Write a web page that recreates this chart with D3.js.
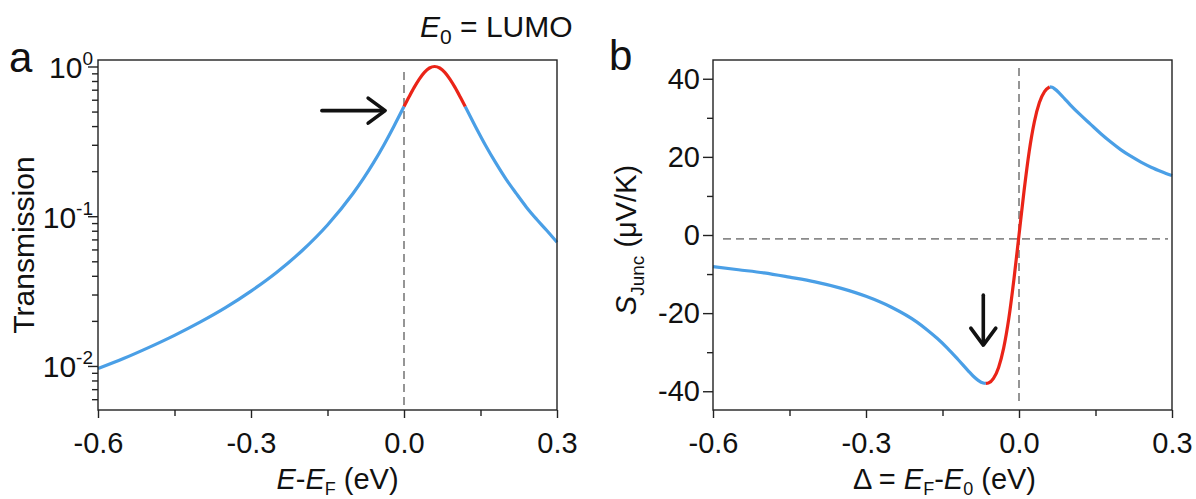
<!DOCTYPE html>
<html>
<head>
<meta charset="utf-8">
<script src="https://cdn.jsdelivr.net/npm/d3@7"></script>
<style>
  body { margin: 0; background: #fff; }
  svg { display: block; }
  text { font-family: "Liberation Sans", Arial, sans-serif; fill: #111; }
</style>
</head>
<body>
<svg id="chart" width="1196" height="499"></svg>
<script>
// ---- Panel a: transmission through the junction vs. energy ----
const energy = [-0.6, -0.55, -0.5, -0.45, -0.4, -0.35, -0.3, -0.25, -0.2, -0.15, -0.1, -0.08, -0.06, -0.04, -0.02,
  0.0, 0.01, 0.02, 0.03, 0.04, 0.05, 0.06, 0.07, 0.08, 0.09, 0.10, 0.11, 0.12,
  0.14, 0.16, 0.18, 0.20, 0.22, 0.24, 0.26, 0.28, 0.30];
const transmission = [0.0096, 0.0112, 0.0133, 0.0160, 0.0196, 0.0245, 0.0316, 0.0421, 0.0588, 0.0874, 0.1417, 0.1773, 0.2269, 0.2970, 0.3977,
  0.540, 0.628, 0.725, 0.824, 0.914, 0.977, 1.0, 0.977, 0.914, 0.824, 0.725, 0.628, 0.540,
  0.398, 0.297, 0.227, 0.177, 0.142, 0.115, 0.0955, 0.0803, 0.0670];
const energyHighlight = [0.0, 0.12];          // red part of the transmission curve
const energyTicks = [-0.6, -0.3, 0.0, 0.3];
const energyMinorTicks = [-0.45, -0.15, 0.15];
const energyDomain = [-0.6, 0.3];
const transmissionDomain = [0.00508, 1.105];
const fermiLine = 0.0;
const arrowA = { from: [-0.161, 0.507], to: [-0.037, 0.507] };

// ---- Panel b: junction Seebeck coefficient vs. level alignment ----
const delta = [-0.6, -0.55, -0.5, -0.45, -0.4, -0.35, -0.3, -0.25, -0.2, -0.18, -0.16, -0.14, -0.12, -0.10, -0.09, -0.08, -0.07, -0.065,
  -0.06, -0.05, -0.04, -0.03, -0.02, -0.01, 0.0, 0.01, 0.02, 0.03, 0.04, 0.05, 0.06,
  0.065, 0.07, 0.08, 0.09, 0.10, 0.12, 0.14, 0.16, 0.18, 0.20, 0.22, 0.24, 0.26, 0.28, 0.30];
const seebeck = [-8.1, -8.9, -9.7, -10.8, -12.0, -13.6, -15.7, -18.5, -22.3, -24.3, -26.5, -29.0, -31.8, -34.7, -36.1, -37.2, -37.9, -38.0,
  -37.9, -36.7, -33.9, -28.9, -21.4, -11.4, 0.0, 11.4, 21.4, 28.9, 33.9, 36.7, 37.9,
  37.8, 37.4, 36.2, 34.8, 33.4, 30.8, 28.4, 26.0, 23.8, 21.8, 20.1, 18.6, 17.3, 16.2, 15.2];
const deltaHighlight = [-0.065, 0.06];         // red part of the Seebeck curve
const deltaTicks = [-0.6, -0.3, 0.0, 0.3];
const deltaMinorTicks = [-0.45, -0.15, 0.15];
const deltaDomain = [-0.6, 0.3];
const seebeckTicks = [40, 20, 0, -20, -40];
const seebeckMinorTicks = [30, 10, -10, -30];
const seebeckDomain = [-44.8, 44.8];
const seebeckBaseline = -1.0;
const resonanceLine = 0.0;
const arrowB = { from: [-0.07, -15.4], to: [-0.07, -28.2] };

// ---- layout ----
const panelA = { left: 98, right: 557, top: 60, bottom: 410 };
const panelB = { left: 713, right: 1172, top: 60, bottom: 410 };
const blue = "#4a9fe6", red = "#ea2418", axisColor = "#222", dashColor = "#8a8a8a";
const tickFont = 29, titleFont = 29;

const svg = d3.select("#chart");

const xA = d3.scaleLinear().domain(energyDomain).range([panelA.left, panelA.right]);
const yA = d3.scaleLog().domain(transmissionDomain).range([panelA.bottom, panelA.top]);
const xB = d3.scaleLinear().domain(deltaDomain).range([panelB.left, panelB.right]);
const yB = d3.scaleLinear().domain(seebeckDomain).range([panelB.bottom, panelB.top]);

const fmt = d => d.toFixed(1);

function styleAxis(g) {
  g.select(".domain").remove();
  g.selectAll(".tick line").attr("stroke", axisColor).attr("stroke-width", 1.4);
  g.selectAll(".tick text").attr("font-size", tickFont).attr("fill", "#111")
    .attr("font-family", "Liberation Sans, Arial, sans-serif");
}

function xAxis(x, panel, major, minor) {
  svg.append("g").attr("transform", `translate(0,${panel.bottom})`)
    .call(d3.axisBottom(x).tickValues(minor).tickSize(6).tickFormat(""))
    .call(styleAxis);
  svg.append("g").attr("transform", `translate(0,${panel.bottom})`)
    .call(d3.axisBottom(x).tickValues(major).tickSize(8).tickPadding(14).tickFormat(fmt))
    .call(styleAxis);
}

function frame(panel) {
  svg.append("rect")
    .attr("x", panel.left).attr("y", panel.top)
    .attr("width", panel.right - panel.left).attr("height", panel.bottom - panel.top)
    .attr("fill", "none").attr("stroke", axisColor).attr("stroke-width", 1.4);
}

function split(xs, ys, range) {
  const pts = xs.map((x, i) => [x, ys[i]]);
  return [
    { pts: pts.filter(p => p[0] <= range[0]), color: blue },
    { pts: pts.filter(p => p[0] >= range[1]), color: blue },
    { pts: pts.filter(p => p[0] >= range[0] && p[0] <= range[1]), color: red }
  ];
}

function drawCurve(segments, x, y) {
  const line = d3.line().x(p => x(p[0])).y(p => y(p[1])).curve(d3.curveMonotoneX);
  segments.forEach(s => {
    svg.append("path").attr("d", line(s.pts))
      .attr("fill", "none").attr("stroke", s.color).attr("stroke-width", 3.2)
      .attr("stroke-linejoin", "round");
  });
}

function arrow(x, y, a) {
  const x0 = x(a.from[0]), y0 = y(a.from[1]), x1 = x(a.to[0]), y1 = y(a.to[1]);
  const ang = Math.atan2(y1 - y0, x1 - x0);
  const len = 17, half = 12.5;
  const bx = x1 - len * Math.cos(ang), by = y1 - len * Math.sin(ang);
  const px = -Math.sin(ang) * half, py = Math.cos(ang) * half;
  const g = svg.append("g").attr("stroke", "#111").attr("stroke-width", 3.6).attr("fill", "none")
    .attr("stroke-linecap", "round").attr("stroke-linejoin", "round");
  g.append("line").attr("x1", x0).attr("y1", y0).attr("x2", x1 - 1.5 * Math.cos(ang)).attr("y2", y1 - 1.5 * Math.sin(ang));
  g.append("path").attr("d", `M${bx + px},${by + py}L${x1},${y1}L${bx - px},${by - py}`);
}

// ===== Panel a =====
xAxis(xA, panelA, energyTicks, energyMinorTicks);

const logTicks = yA.ticks().filter(d => d >= transmissionDomain[0] && d <= transmissionDomain[1]);
const isDecade = d => Math.abs(Math.log10(d) - Math.round(Math.log10(d))) < 1e-6;
svg.append("g").attr("transform", `translate(${panelA.left},0)`)
  .call(d3.axisLeft(yA).tickValues(logTicks.filter(d => !isDecade(d))).tickSize(6).tickFormat(""))
  .call(styleAxis);
const decadeAxis = svg.append("g").attr("transform", `translate(${panelA.left},0)`)
  .call(d3.axisLeft(yA).tickValues(logTicks.filter(isDecade)).tickSize(10).tickFormat(""))
  .call(styleAxis);
decadeAxis.selectAll(".tick").each(function (d) {
  const t = d3.select(this).append("text").attr("x", -5).attr("y", 11)
    .attr("text-anchor", "end").attr("font-size", 30).attr("fill", "#111");
  t.append("tspan").text("10");
  t.append("tspan").attr("dy", -13).attr("font-size", 19).text(String(Math.round(Math.log10(d))));
});

svg.append("line")
  .attr("x1", xA(fermiLine)).attr("x2", xA(fermiLine))
  .attr("y1", panelA.top + 12).attr("y2", panelA.bottom - 3)
  .attr("stroke", dashColor).attr("stroke-width", 1.8).attr("stroke-dasharray", "8,5");

drawCurve(split(energy, transmission, energyHighlight), xA, yA);
frame(panelA);
arrow(xA, yA, arrowA);

// axis titles and labels, panel a
const titleA = svg.append("text").attr("x", (panelA.left + panelA.right) / 2 + 10).attr("y", 489)
  .attr("text-anchor", "middle").attr("font-size", titleFont);
titleA.append("tspan").attr("font-style", "italic").text("E");
titleA.append("tspan").text("-");
titleA.append("tspan").attr("font-style", "italic").text("E");
titleA.append("tspan").attr("dy", 6).attr("font-size", 18).text("F");
titleA.append("tspan").attr("dy", -6).text(" (eV)");

svg.append("text").attr("transform", `translate(34,${(panelA.top + panelA.bottom) / 2 + 10}) rotate(-90)`)
  .attr("text-anchor", "middle").attr("font-size", 30).text("Transmission");

svg.append("text").attr("x", 9).attr("y", 72).attr("font-size", 42).text("a");

const lumo = svg.append("text").attr("x", 420).attr("y", 37).attr("font-size", 30);
lumo.append("tspan").attr("font-style", "italic").text("E");
lumo.append("tspan").attr("dy", 7).attr("font-size", 21).text("0");
lumo.append("tspan").attr("dy", -7).text(" = LUMO");

// ===== Panel b =====
xAxis(xB, panelB, deltaTicks, deltaMinorTicks);
svg.append("g").attr("transform", `translate(${panelB.left},0)`)
  .call(d3.axisLeft(yB).tickValues(seebeckMinorTicks).tickSize(6).tickFormat(""))
  .call(styleAxis);
svg.append("g").attr("transform", `translate(${panelB.left},0)`)
  .call(d3.axisLeft(yB).tickValues(seebeckTicks).tickSize(10).tickPadding(3).tickFormat(d => String(d)))
  .call(styleAxis);

svg.append("line")
  .attr("x1", xB(resonanceLine)).attr("x2", xB(resonanceLine))
  .attr("y1", panelB.top + 8).attr("y2", panelB.bottom - 5)
  .attr("stroke", dashColor).attr("stroke-width", 1.8).attr("stroke-dasharray", "8,5");
svg.append("line")
  .attr("x1", panelB.left + 10).attr("x2", panelB.right - 4)
  .attr("y1", yB(seebeckBaseline)).attr("y2", yB(seebeckBaseline))
  .attr("stroke", dashColor).attr("stroke-width", 1.8).attr("stroke-dasharray", "8,5");

drawCurve(split(delta, seebeck, deltaHighlight), xB, yB);
frame(panelB);
arrow(xB, yB, arrowB);

const titleB = svg.append("text").attr("x", (panelB.left + panelB.right) / 2 + 2).attr("y", 489)
  .attr("text-anchor", "middle").attr("font-size", titleFont);
titleB.append("tspan").text("\u0394 = ");
titleB.append("tspan").attr("font-style", "italic").text("E");
titleB.append("tspan").attr("dy", 6).attr("font-size", 18).text("F");
titleB.append("tspan").attr("dy", -6).text("-");
titleB.append("tspan").attr("font-style", "italic").text("E");
titleB.append("tspan").attr("dy", 6).attr("font-size", 18).text("0");
titleB.append("tspan").attr("dy", -6).text(" (eV)");

const sLabel = svg.append("text").attr("transform", `translate(636,${(panelB.top + panelB.bottom) / 2 + 5}) rotate(-90)`)
  .attr("text-anchor", "middle").attr("font-size", titleFont);
sLabel.append("tspan").attr("font-style", "italic").text("S");
sLabel.append("tspan").attr("dy", 8).attr("font-size", 19).text("Junc");
sLabel.append("tspan").attr("dy", -8).text("  (\u03bcV/K)");

svg.append("text").attr("x", 609).attr("y", 70).attr("font-size", 42).text("b");
</script>
</body>
</html>
